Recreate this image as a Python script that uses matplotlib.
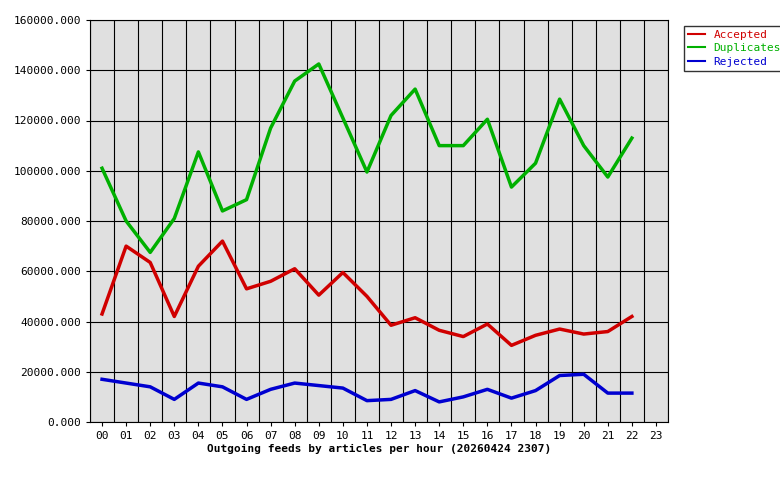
import matplotlib
matplotlib.use("Agg")
import matplotlib.pyplot as plt
from matplotlib.ticker import FixedLocator, FuncFormatter

hours = ["%02d" % h for h in range(24)]
accepted = [43000,70000,63500,42000,62000,72000,53000,56000,61000,50500,59500,50000,38500,41500,36500,34000,39000,30500,34500,37000,35000,36000,42000]
duplicates = [101000,80000,67500,81000,107500,84000,88500,117000,135700,142500,121000,99500,122000,132500,110000,110000,120500,93500,103000,128500,110000,97500,113000]
rejected = [17000,15500,14000,9000,15500,14000,9000,13000,15500,14500,13500,8500,9000,12500,8000,10000,13000,9500,12500,18500,19000,11500,11500]

plt.rcParams['font.family'] = ['DejaVu Sans Mono']
fig = plt.figure(figsize=(7.8, 4.8), dpi=100)
ax = fig.add_axes([90/780, 1-422/480, 578/780, 402/480])
ax.set_facecolor('#e0e0e0')
x = list(range(len(accepted)))
ax.plot(x, accepted, color='#d00000', lw=2.5, label='Accepted')
ax.plot(x, duplicates, color='#00b000', lw=2.5, label='Duplicates')
ax.plot(x, rejected, color='#0000d0', lw=2.5, label='Rejected')
ax.set_xlim(-0.5, 23.5)
ax.set_ylim(0, 160000)
ax.set_xticks(range(24))
ax.set_xticklabels(hours, fontsize=8)
ax.set_yticks(range(0, 160001, 20000))
ax.yaxis.set_major_formatter(FuncFormatter(lambda v, p: "%.3f" % v))
ax.tick_params(labelsize=8, length=3)
ax.xaxis.set_minor_locator(FixedLocator([i + 0.5 for i in range(-1, 24)]))
ax.tick_params(which='minor', length=0)
ax.grid(True, which='minor', axis='x', color='black', lw=0.8)
ax.grid(True, which='major', axis='y', color='black', lw=0.8)
ax.set_axisbelow(True)
ax.set_xlabel("Outgoing feeds by articles per hour (20260424 2307)", fontsize=8, fontweight='bold', labelpad=2)
leg = fig.legend(loc='upper left', bbox_to_anchor=(678/780, 1-20/480), fontsize=8, frameon=True,
                 fancybox=False, edgecolor='black', handlelength=1.5, borderpad=0.4, labelspacing=0.3)
for t, c in zip(leg.get_texts(), ['#d00000', '#00b000', '#0000d0']):
    t.set_color(c)
for l in leg.get_lines():
    l.set_linewidth(1.5)
fig.savefig("out.png", dpi=100)
